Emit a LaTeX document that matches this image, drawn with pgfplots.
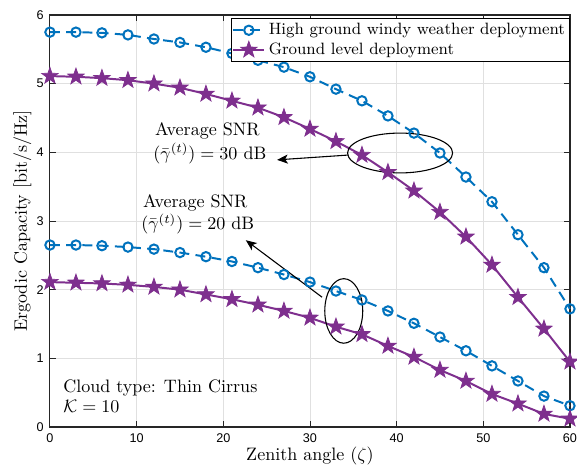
\documentclass[border=0pt]{standalone}
\usepackage{fontspec}
\usepackage{pgfplots}
\pgfplotsset{compat=1.18}
\usetikzlibrary{arrows.meta}
\newfontfamily\tickfont{Liberation Sans}
\definecolor{mblue}{RGB}{0,114,189}
\definecolor{mpurple}{RGB}{126,47,142}

\pgfdeclareplotmark{fstar}{%
  \pgfpathmoveto{\pgfpointpolar{90}{\pgfplotmarksize}}%
  \pgfpathlineto{\pgfpointpolar{126}{0.4\pgfplotmarksize}}%
  \pgfpathlineto{\pgfpointpolar{162}{\pgfplotmarksize}}%
  \pgfpathlineto{\pgfpointpolar{198}{0.4\pgfplotmarksize}}%
  \pgfpathlineto{\pgfpointpolar{234}{\pgfplotmarksize}}%
  \pgfpathlineto{\pgfpointpolar{270}{0.4\pgfplotmarksize}}%
  \pgfpathlineto{\pgfpointpolar{306}{\pgfplotmarksize}}%
  \pgfpathlineto{\pgfpointpolar{342}{0.4\pgfplotmarksize}}%
  \pgfpathlineto{\pgfpointpolar{18}{\pgfplotmarksize}}%
  \pgfpathlineto{\pgfpointpolar{54}{0.4\pgfplotmarksize}}%
  \pgfpathclose
  \pgfusepathqfillstroke
}

\pgfplotstableread{
x y
0 5.75
3 5.75
6 5.74
9 5.71
12 5.65
15 5.60
18 5.53
21 5.44
24 5.34
27 5.24
30 5.10
33 4.92
36 4.75
39 4.53
42 4.28
45 3.99
48 3.64
51 3.28
54 2.80
57 2.32
60 1.72
}\blueA
\pgfplotstableread{
x y
0 5.11
3 5.10
6 5.08
9 5.05
12 5.00
15 4.94
18 4.85
21 4.75
24 4.65
27 4.51
30 4.34
33 4.16
36 3.96
39 3.71
42 3.44
45 3.13
48 2.77
51 2.36
54 1.89
57 1.43
60 0.95
}\purpleA
\pgfplotstableread{
x y
0 2.65
3 2.65
6 2.64
9 2.62
12 2.59
15 2.54
18 2.48
21 2.41
24 2.32
27 2.22
30 2.11
33 1.98
36 1.85
39 1.69
42 1.51
45 1.31
48 1.11
51 0.89
54 0.67
57 0.45
60 0.31
}\blueB
\pgfplotstableread{
x y
0 2.11
3 2.10
6 2.09
9 2.07
12 2.04
15 2.00
18 1.93
21 1.86
24 1.78
27 1.69
30 1.59
33 1.46
36 1.35
39 1.18
42 1.02
45 0.83
48 0.67
51 0.48
54 0.34
57 0.19
60 0.12
}\purpleB

\begin{document}
\begin{tikzpicture}
\useasboundingbox (-27.7pt,-21.1pt) rectangle (292.3pt,236.8pt);
\begin{axis}[
  at={(0,0)}, anchor=south west,
  scale only axis, width=288.4pt, height=228.5pt,
  xmin=0, xmax=60, ymin=0, ymax=6,
  xtick={0,10,...,60}, ytick={0,1,...,6},
  grid=major, major grid style={black!12, line width=0.5pt},
  axis line style={black!85, line width=0.6pt},
  tick align=inside, xtick pos=both, ytick pos=both,
  major tick length=3.5pt,
  tick style={black!85, line width=0.5pt},
  ticklabel style={font=\tickfont\scriptsize},
  /pgf/number format/assume math mode=true,
  xlabel={Zenith angle ($\zeta$)},
  ylabel={Ergodic Capacity [bit/s/Hz]},
  xlabel style={yshift=4pt},
  ylabel style={yshift=-4pt},
  label style={font=\normalsize},
  legend style={at={(rel axis cs:1,0.992)}, anchor=north east, draw=black, line width=0.5pt,
    font=\fontsize{9.1}{11}\selectfont, inner sep=0.5pt, row sep=-1pt, fill=white},
  legend cell align=left,
  clip=false,
]
\addplot[mblue, line width=1.1pt, dash pattern=on 5.5pt off 3.5pt, mark=o, mark size=2.6pt,
  mark options={solid}] table {\blueA};
\addlegendentry{High ground windy weather deployment}
\addplot[mpurple, line width=1.1pt, mark=fstar, mark size=4.8pt,
  mark options={solid, fill=mpurple, line width=0.4pt}] table {\purpleA};
\addlegendentry{Ground level deployment}
\addplot[mblue, line width=1.1pt, dash pattern=on 5.5pt off 3.5pt, mark=o, mark size=2.6pt,
  mark options={solid}, forget plot] table {\blueB};
\addplot[mpurple, line width=1.1pt, mark=fstar, mark size=4.8pt,
  mark options={solid, fill=mpurple, line width=0.4pt}, forget plot] table {\purpleB};

\draw[black, line width=0.6pt] (axis cs:40.4,3.99) ellipse [x radius=6.06, y radius=0.29];
\draw[black, line width=0.6pt, -{Stealth[length=6pt,width=5pt,inset=1.5pt]}] (axis cs:34.4,3.96) -- (axis cs:26.2,3.89);
\node[font=\normalsize, anchor=base west, inner sep=0pt, text depth=0pt] at (axis cs:12.1,4.25) {Average SNR};
\node[font=\normalsize, anchor=base west, inner sep=0pt] at (axis cs:11.9,3.90) {$(\bar{\gamma}^{(t)})=30$ dB};

\draw[black, line width=0.6pt] (axis cs:33.9,1.69) ellipse [x radius=2.19, y radius=0.47];
\draw[black, line width=0.6pt, -{Stealth[length=6pt,width=5pt,inset=1.5pt]}] (axis cs:31.4,1.89) -- (axis cs:22.6,2.72);
\node[font=\normalsize, anchor=base west, inner sep=0pt, text depth=0pt] at (axis cs:10.7,3.19) {Average SNR};
\node[font=\normalsize, anchor=base west, inner sep=0pt] at (axis cs:10.5,2.87) {$(\bar{\gamma}^{(t)})=20$ dB};

\node[font=\normalsize, anchor=base west, inner sep=0pt, text depth=0pt] at (axis cs:1.5,0.50) {Cloud type: Thin Cirrus};
\node[font=\normalsize, anchor=base west, inner sep=0pt] at (axis cs:1.5,0.21) {$\mathcal{K}=10$};
\end{axis}
\end{tikzpicture}
\end{document}
